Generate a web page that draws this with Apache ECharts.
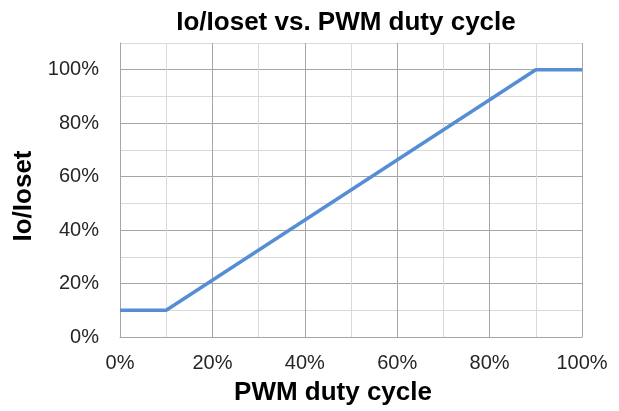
<!DOCTYPE html>
<html>
<head>
<meta charset="utf-8">
<script src="https://cdn.jsdelivr.net/npm/echarts@6/dist/echarts.min.js"></script>
<style>html,body{margin:0;padding:0;background:#fff}#c{width:619px;height:411px}</style>
</head>
<body>
<div id="c"></div>
<script>
const dutyCycle = [0, 10, 90, 100];
const ioRatio = [10, 10, 100, 100];
const xTicks = [0, 20, 40, 60, 80, 100];
const yTicks = [0, 20, 40, 60, 80, 100];

const chart = echarts.init(document.getElementById('c'));
const font = '"Liberation Sans", Arial, sans-serif';
chart.setOption({
  animation: false,
  backgroundColor: '#fff',
  title: {
    text: 'Io/Ioset vs. PWM duty cycle',
    left: 341, top: 5, textAlign: 'center',
    textStyle: {fontFamily: font, fontSize: 26, fontWeight: 'bold', color: '#000'}
  },
  grid: {left: 120, right: 37, top: 43, bottom: 74, containLabel: false},
  xAxis: {
    type: 'value', min: 0, max: 100, interval: 10,
    name: 'PWM duty cycle', nameLocation: 'middle', nameGap: 43,
    nameTextStyle: {fontFamily: font, fontSize: 26, fontWeight: 'bold', color: '#000',
      padding: [0, 36, 0, 0]},
    axisLine: {show: true, lineStyle: {color: '#a6a6a6'}},
    axisTick: {show: false},
    axisLabel: {fontFamily: font, fontSize: 20, color: '#262626', margin: 16,
      formatter: v => xTicks.includes(v) ? v + '%' : ''},
    splitLine: {show: true, lineStyle: {color: ['#a6a6a6', '#d9d9d9'], width: 1}}
  },
  yAxis: {
    type: 'value', min: 0, max: 110, interval: 10,
    name: 'Io/Ioset', nameLocation: 'middle', nameGap: 83, nameRotate: 90,
    nameTextStyle: {fontFamily: font, fontSize: 26, fontWeight: 'bold', color: '#000',
      padding: [0, 12, 0, 0]},
    axisLine: {show: true, lineStyle: {color: '#a6a6a6'}},
    axisTick: {show: false},
    axisLabel: {fontFamily: font, fontSize: 20, color: '#262626', margin: 21,
      formatter: v => yTicks.includes(v) ? v + '%' : ''},
    splitLine: {show: true, lineStyle: {color: ['#a6a6a6', '#d9d9d9'], width: 1}}
  },
  series: [{
    type: 'line',
    data: dutyCycle.map((d, i) => [d, ioRatio[i]]),
    showSymbol: false,
    lineStyle: {color: '#558ed5', width: 3.5},
    itemStyle: {color: '#558ed5'}
  }]
});
</script>
</body>
</html>
